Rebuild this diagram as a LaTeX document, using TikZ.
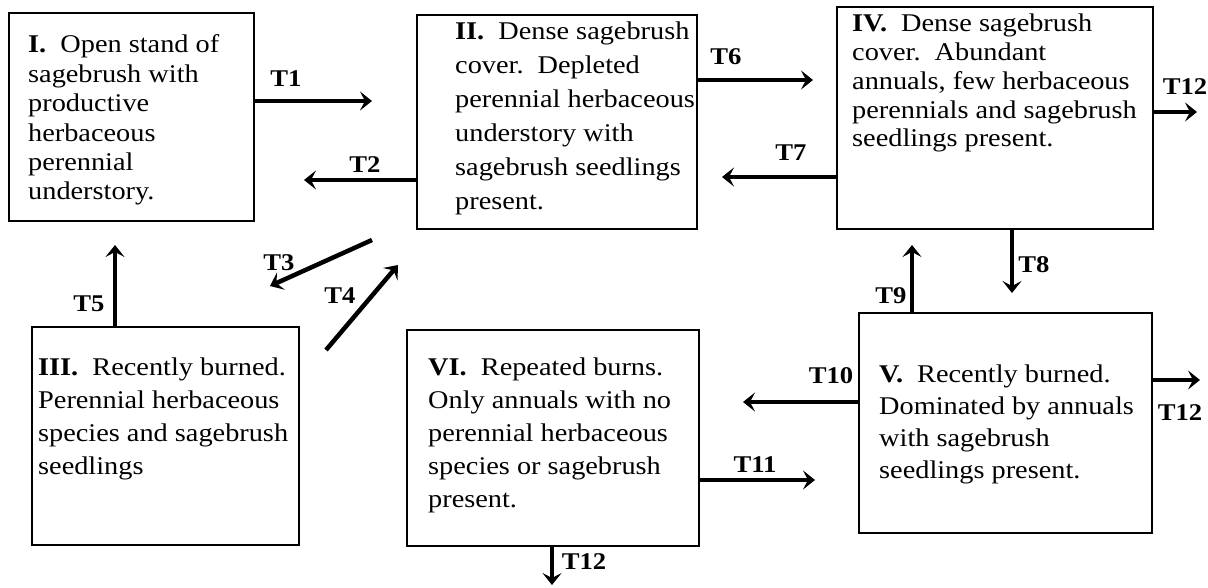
\documentclass[tikz,border=0pt]{standalone}
\usepackage{fontspec}
\setmainfont{Liberation Serif}[FakeStretch=1.11]
\usetikzlibrary{arrows.meta}
\newcommand\mylines[1]{\begin{tabular}[t]{@{}l@{}}#1\end{tabular}}
\tikzset{
  stbox/.style={draw, line width=1.3pt, inner sep=0pt, outer sep=0pt},
  btxt/.style={anchor=base west, inner sep=0pt},
  arr/.style={line width=4.5pt, -{Stealth[length=12pt,width=19pt,inset=5pt]}},
  lab/.style={inner sep=0pt, font=\fontsize{24}{24}\selectfont\bfseries},
}
\begin{document}
\begin{tikzpicture}[x=1pt,y=-1pt]
\useasboundingbox (0,0) rectangle (1208,588);
% boxes
\node[stbox, minimum width=245pt, minimum height=208pt] (b1) at (131.5,117) {};
\node[stbox, minimum width=280pt, minimum height=214pt] (b2) at (557,122) {};
\node[stbox, minimum width=316pt, minimum height=222pt] (b4) at (995,118) {};
\node[stbox, minimum width=267pt, minimum height=218pt] (b3) at (165.5,436) {};
\node[stbox, minimum width=292pt, minimum height=216pt] (b6) at (553,438) {};
\node[stbox, minimum width=293pt, minimum height=220pt] (b5) at (1005.5,423) {};
% texts
\node[btxt, font=\fontsize{25.5}{29.4}\selectfont] (x1) at (28,53) {\mylines{\textbf{I.}\ \ Open stand of\\ sagebrush with\\ productive\\ herbaceous\\ perennial\\ understory.}};
\node[btxt, font=\fontsize{25.5}{34}\selectfont] (x2) at (455,40) {\mylines{\textbf{II.}\ \ Dense sagebrush\\ cover.\ \ Depleted\\ perennial herbaceous\\ understory with\\ sagebrush seedlings\\ present.}};
\node[btxt, font=\fontsize{25.5}{28.7}\selectfont] (x4) at (852,32) {\mylines{\textbf{IV.}\ \ Dense sagebrush\\ cover.\ \ Abundant\\ annuals, few herbaceous\\ perennials and sagebrush\\ seedlings present.}};
\node[btxt, font=\fontsize{25.5}{33}\selectfont] (x3) at (38,375) {\mylines{\textbf{III.}\ \ Recently burned.\\ Perennial herbaceous\\ species and sagebrush\\ seedlings}};
\node[btxt, font=\fontsize{25.5}{33}\selectfont] (x6) at (428,375) {\mylines{\textbf{VI.}\ \ Repeated burns.\\ Only annuals with no\\ perennial herbaceous\\ species or sagebrush\\ present.}};
\node[btxt, font=\fontsize{25.5}{32}\selectfont] (x5) at (879,382) {\mylines{\textbf{V.}\ \ Recently burned.\\ Dominated by annuals\\ with sagebrush\\ seedlings present.}};
% arrow end points
\coordinate (t1e) at (372,101);
\coordinate (t2e) at (304,180);
\coordinate (t3s) at (372,240);
\coordinate (t3e) at (270,286);
\coordinate (t4s) at (326,350);
\coordinate (t4e) at (398,265);
\coordinate (t5e) at (115,245);
\coordinate (t6e) at (813,80);
\coordinate (t7e) at (722,177);
\coordinate (t12ae) at (1197,112);
\coordinate (t8e) at (1012,293);
\coordinate (t9e) at (912,245);
\coordinate (t10e) at (743,402);
\coordinate (t12be) at (1200,380);
\coordinate (t11e) at (815,480);
\coordinate (t12ce) at (552,585);
% arrows
\draw[arr] (b1.east |- t1e) -- (t1e);
\draw[arr] (b2.west |- t2e) -- (t2e);
\draw[arr] (t3s) -- (t3e);
\draw[arr] (t4s) -- (t4e);
\draw[arr] (b3.north -| t5e) -- (t5e);
\draw[arr] (b2.east |- t6e) -- (t6e);
\draw[arr] (b4.west |- t7e) -- (t7e);
\draw[arr] (b4.east |- t12ae) -- (t12ae);
\draw[arr] (b4.south -| t8e) -- (t8e);
\draw[arr] (b5.north -| t9e) -- (t9e);
\draw[arr] (b5.west |- t10e) -- (t10e);
\draw[arr] (b5.east |- t12be) -- (t12be);
\draw[arr] (b6.east |- t11e) -- (t11e);
\draw[arr] (b6.south -| t12ce) -- (t12ce);
% labels
\node[lab] (l1) at (286,79) {T1};
\node[lab] (l2) at (365,165) {T2};
\node[lab] (l3) at (279,263) {T3};
\node[lab] (l4) at (340,296) {T4};
\node[lab] (l5) at (89,304) {T5};
\node[lab] (l6) at (726,57) {T6};
\node[lab] (l7) at (791,153) {T7};
\node[lab] (l12a) at (1185,87) {T12};
\node[lab] (l8) at (1034,265) {T8};
\node[lab] (l9) at (891,296) {T9};
\node[lab] (l10) at (831,376) {T10};
\node[lab] (l12b) at (1180,413) {T12};
\node[lab] (l11) at (755,465) {T11};
\node[lab] (l12c) at (584,562) {T12};
\end{tikzpicture}
\end{document}
